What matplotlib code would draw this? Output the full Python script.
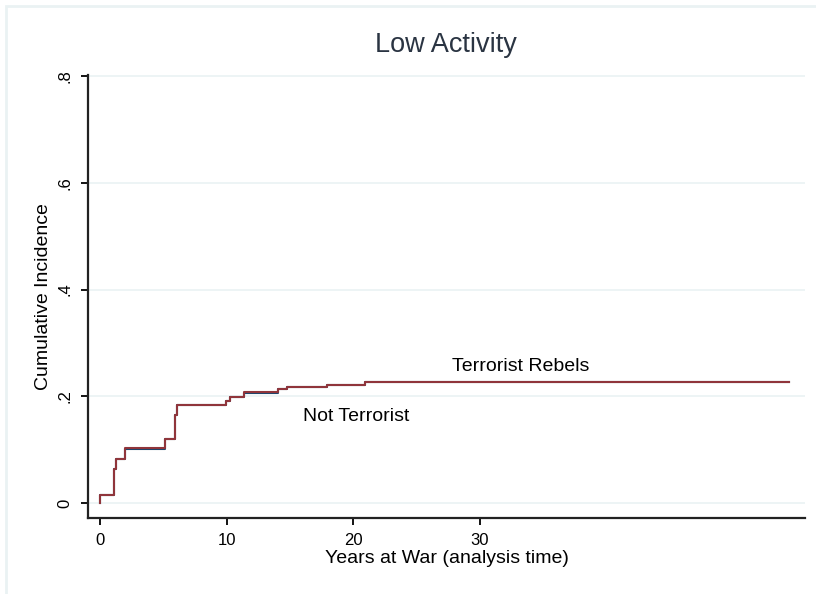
import numpy as np
import matplotlib
matplotlib.use("Agg")
import matplotlib.pyplot as plt
from matplotlib.patches import Rectangle

plt.rcParams['font.family'] = ['Liberation Sans', 'DejaVu Sans']

# cumulative incidence steps
years = [0, 0, 1.1, 1.3, 2.0, 5.1, 5.9, 6.1, 9.95, 10.3, 11.4, 14.1, 14.8, 17.9, 20.9, 54.4]
inc_terror = [0, 0.015, 0.063, 0.083, 0.104, 0.120, 0.165, 0.184, 0.191, 0.198,
              0.209, 0.213, 0.218, 0.221, 0.226, 0.226]
inc_not = [0, 0.015, 0.063, 0.083, 0.101, 0.120, 0.165, 0.184, 0.191, 0.198,
           0.207, 0.213, 0.218, 0.221, 0.226, 0.226]

xticks = [0, 10, 20, 30]
yticks = [0, 0.2, 0.4, 0.6, 0.8]
ytick_labels = ['0', '.2', '.4', '.6', '.8']

navy = '#1a476f'
maroon = '#90353b'
grid_col = '#eaf2f3'

fig = plt.figure(figsize=(8.16, 5.94), dpi=100)
fig.patch.set_facecolor('white')
# faint outer frame like Stata's graph region
fig.patches.append(Rectangle((6/816, -0.1), 1.2, 1.1 - 6/594, transform=fig.transFigure,
                             fill=False, edgecolor=grid_col, lw=2.0, zorder=0))

ax = fig.add_axes([88/816, 76/594, 717/816, 443/594])

ax.step(years, inc_not, where='post', color=navy, lw=1.5, zorder=3)
ax.step(years, inc_terror, where='post', color=maroon, lw=1.5, zorder=4)

ax.set_xlim(-0.95, 55.7)
ax.set_ylim(-0.028, 0.802)

for y in yticks:
    ax.axhline(y, color=grid_col, lw=1.2, zorder=1)

ax.set_xticks(xticks)
ax.set_yticks(yticks)
ax.set_yticklabels(ytick_labels, rotation=90, va='center')
ax.tick_params(axis='both', direction='out', length=5, width=1.3, labelsize=12, colors='black')
ax.tick_params(axis='y', pad=6)
ax.tick_params(axis='x', pad=6)

for s in ['top', 'right']:
    ax.spines[s].set_visible(False)
for s in ['left', 'bottom']:
    ax.spines[s].set_linewidth(1.6)
    ax.spines[s].set_color('#222222')

ax.text(33.2, 0.255, 'Terrorist Rebels', fontsize=14, ha='center', va='center')
ax.text(20.2, 0.163, 'Not Terrorist', fontsize=14, ha='center', va='center')

ax.set_xlabel('Years at War (analysis time)', fontsize=14, labelpad=1)
ax.set_ylabel('Cumulative Incidence', fontsize=14, labelpad=4)
fig.text(446/816, 1 - 45/594, 'Low Activity', fontsize=19.5, color='#2a3442',
         ha='center', va='center')

fig.savefig('out.png', dpi=100)
